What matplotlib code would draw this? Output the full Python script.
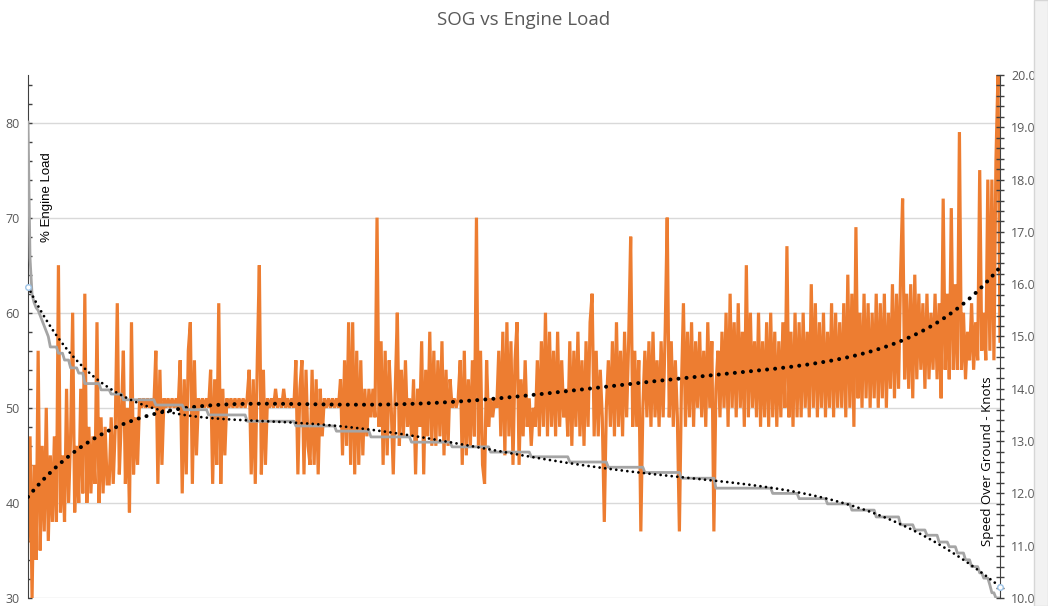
import numpy as np
import matplotlib
matplotlib.use("Agg")
import matplotlib.pyplot as plt
from matplotlib.ticker import MultipleLocator, FormatStrFormatter
from matplotlib.patches import Rectangle

engine_load = [
    36, 47, 30, 44, 34, 56, 35, 46, 37, 50, 36, 45, 38, 47, 38, 65, 39, 45, 38, 52,
    40, 47, 60, 39, 46, 40, 52, 41, 62, 40, 48, 41, 47, 42, 59, 40, 49, 41, 48, 42,
    42, 49, 42, 48, 61, 43, 49, 56, 42, 50, 39, 59, 43, 49, 44, 51, 50, 51, 50, 51,
    50, 51, 50, 56, 42, 54, 44, 51, 50, 51, 50, 51, 50, 51, 50, 55, 41, 53, 43, 56,
    59, 42, 55, 45, 51, 50, 51, 50, 51, 50, 54, 42, 53, 44, 61, 42, 52, 45, 51, 50,
    51, 50, 51, 50, 51, 50, 51, 50, 51, 54, 43, 53, 42, 55, 65, 43, 54, 44, 51, 50,
    51, 50, 52, 50, 51, 50, 52, 50, 51, 50, 51, 50, 55, 43, 52, 55, 43, 54, 46, 44,
    54, 44, 53, 43, 52, 47, 51, 50, 51, 50, 51, 50, 51, 50, 53, 45, 55, 46, 59, 44,
    59, 43, 56, 44, 55, 45, 52, 47, 52, 49, 52, 49, 70, 48, 57, 44, 56, 45, 55, 50,
    43, 52, 60, 46, 54, 47, 55, 48, 51, 47, 53, 43, 52, 48, 57, 43, 54, 47, 58, 46,
    56, 46, 55, 47, 57, 45, 54, 46, 53, 50, 51, 50, 51, 55, 44, 56, 45, 53, 46, 55,
    47, 70, 46, 56, 44, 42, 55, 48, 51, 49, 51, 50, 56, 47, 58, 45, 59, 47, 57, 44,
    55, 59, 44, 53, 47, 55, 48, 51, 46, 50, 48, 55, 47, 57, 48, 60, 47, 58, 48, 56,
    47, 58, 48, 55, 49, 52, 47, 57, 46, 56, 48, 58, 47, 55, 46, 57, 48, 59, 62, 47,
    56, 47, 54, 49, 38, 50, 55, 48, 57, 47, 59, 48, 56, 47, 58, 49, 57, 68, 48, 56,
    48, 55, 37, 50, 56, 49, 57, 48, 58, 49, 55, 48, 57, 49, 58, 70, 49, 57, 48, 55,
    49, 37, 52, 61, 48, 58, 49, 59, 48, 57, 50, 58, 49, 56, 48, 59, 50, 57, 37, 52,
    56, 49, 58, 50, 60, 48, 62, 50, 59, 49, 61, 50, 58, 48, 65, 49, 60, 50, 57, 49,
    60, 48, 57, 49, 59, 48, 60, 49, 58, 48, 57, 49, 59, 50, 67, 49, 58, 48, 60, 49,
    59, 49, 60, 50, 58, 49, 63, 50, 61, 49, 59, 50, 60, 49, 58, 50, 61, 49, 60, 50,
    59, 50, 61, 49, 64, 50, 62, 48, 69, 51, 60, 50, 62, 51, 61, 50, 60, 51, 62, 50,
    61, 51, 62, 50, 60, 52, 63, 51, 62, 52, 64, 72, 53, 62, 52, 63, 51, 64, 53, 62,
    54, 61, 52, 62, 53, 60, 54, 62, 53, 61, 51, 72, 54, 62, 53, 71, 54, 63, 54, 79,
    54, 60, 53, 58, 55, 61, 54, 59, 55, 75, 56, 60, 55, 74, 56, 74, 55, 76, 85, 57,
]

# speed over ground (knots, right axis), sorted high to low: level and how many observations
sog_levels = [19.1, 16.5, 15.8, 15.65, 15.55, 15.5, 15.4, 15.3, 15.2, 15.1, 15.0,
              14.8, 14.68, 14.55, 14.4, 14.3, 14.1, 13.98, 13.9, 13.79, 13.69,
              13.6, 13.5, 13.38, 13.29, 13.19, 13.08, 12.98, 12.89, 12.79, 12.7,
              12.6, 12.5, 12.4, 12.29, 12.1, 12.0, 11.9, 11.8, 11.68, 11.55, 11.4,
              11.3, 11.2, 11.07, 10.98, 10.86, 10.73, 10.6, 10.48, 10.38, 10.25,
              10.1, 10.0]
sog_counts = [1, 1, 1, 1, 1, 1, 1, 1, 1, 1, 1,
              4, 3, 3, 4, 3, 8, 5, 6, 16, 14,
              12, 19, 24, 20, 17, 20, 20, 19, 20, 19,
              19, 18, 18, 17, 28, 13, 14, 12, 12, 12, 7,
              6, 6, 5, 4, 4, 3, 4, 2, 3, 1,
              2, 3]

load = np.array(engine_load, dtype=float)
sog = np.repeat(sog_levels, sog_counts)
x = np.arange(len(load))

# polynomial trendlines (order 6)
P = np.polynomial.Polynomial
load_trend = P.fit(x, load, 6)(x)
sog_trend = P.fit(x, sog, 6)(x)

W, H = 1048, 606
fig = plt.figure(figsize=(W / 100, H / 100), dpi=100)
ax = fig.add_axes([28 / W, 8 / H, 972 / W, 523 / H])
ax2 = ax.twinx()

ax.plot(x, load, color="#ED7D31", lw=2.3, zorder=2, solid_joinstyle="miter")
ax.plot(x, load_trend, color="black", lw=2.9, linestyle=(0, (0.01, 2.0)),
        dash_capstyle="round", zorder=4)

ax2.plot(x, sog, color="#A5A5A5", lw=2.0, zorder=2)
ax2.plot(x, sog_trend, color="black", lw=2.0, linestyle=(0, (0.01, 2.0)),
         dash_capstyle="round", zorder=4)
ax2.plot(x[[0, -1]], sog_trend[[0, -1]], "o", ms=4, mfc="white", mec="#9DC3E6",
         mew=1, zorder=5, clip_on=False)

ax.set_xlim(0, len(x) - 1)
ax.set_ylim(30, 85)
ax2.set_ylim(10, 20)

ax.yaxis.set_major_locator(MultipleLocator(10))
ax.yaxis.set_minor_locator(MultipleLocator(2))
ax.grid(axis="y", which="major", color="#D9D9D9", lw=1)
ax.set_axisbelow(True)
ax.tick_params(axis="y", which="both", direction="in", length=3, width=1,
               color="#404040", labelcolor="#595959", labelsize=9, pad=6)
ax.set_xticks([])

ax2.yaxis.set_major_locator(MultipleLocator(1))
ax2.yaxis.set_minor_locator(MultipleLocator(0.2))
ax2.yaxis.set_major_formatter(FormatStrFormatter("%.1f"))
ax2.tick_params(axis="y", which="both", direction="inout", length=6, width=1,
                color="#404040", labelcolor="#595959", labelsize=9, pad=5)

for a in (ax, ax2):
    for s in ("top", "bottom"):
        a.spines[s].set_visible(False)
    for lab in a.get_yticklabels():
        lab.set_family("Open Sans")
ax.spines["right"].set_visible(False)
ax2.spines["left"].set_visible(False)
ax.spines["left"].set_color("#404040")
ax2.spines["right"].set_color("#404040")

fig.text(524 / W, 1 - 20 / H, "SOG vs Engine Load", ha="center", va="center",
         fontsize=13.5, color="#595959", family="Open Sans")
fig.text(47 / W, 1 - 197 / H, "% Engine Load", rotation=90, ha="center",
         va="center", fontsize=9.5, color="black", family="Liberation Sans")
fig.text(987 / W, 1 - 461 / H, "Speed Over Ground - Knots", rotation=90,
         ha="center", va="center", fontsize=9.5, color="black", family="Open Sans")

# side strip at the right edge
fig.patches.append(Rectangle((1034 / W, 0), 14 / W, 1, transform=fig.transFigure,
                             facecolor="#F2F2F2", edgecolor="#D6D6D6", lw=1,
                             zorder=10))

fig.savefig("out.png", dpi=100)
